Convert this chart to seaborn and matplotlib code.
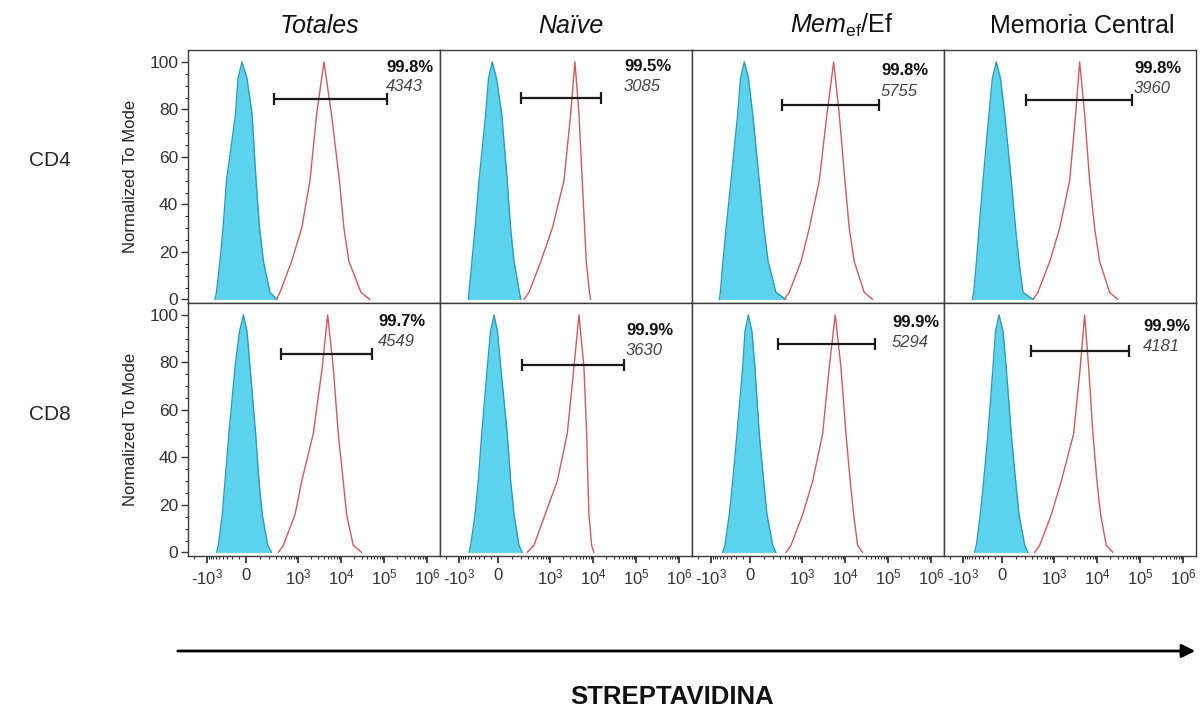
import numpy as np
import pandas as pd
import matplotlib
matplotlib.use("Agg")
import matplotlib.pyplot as plt
from matplotlib.ticker import FixedLocator, NullLocator
import seaborn as sns

# -------------------------
# DATA
# -------------------------
col_titles = ["Totales", "Naïve", r"$\mathit{Mem}_{\mathrm{ef}}$/Ef", "Memoria Central"]
col_styles = ["italic", "italic", "normal", "normal"]
row_labels = ["CD4", "CD8"]

# % of mode at each point of the traced outlines (left flank, peak, right flank)
ctrl_levels = [0, 3, 16, 30, 50, 78, 93, 100, 93, 78, 50, 30, 16, 3, 0]
strep_levels = [0, 3, 16, 30, 50, 78, 100, 78, 50, 30, 16, 3, 0]

# fluorescence at those levels: control (cyan, filled) and streptavidin (red)
cd4_totales_ctrl = [-638, -585, -478, -393, -313, -149, -111, -54, 7, 41, 70, 98, 134, 206, 314]
cd4_totales_strep = [308, 372, 706, 1219, 1899, 2718, 4017, 6002, 9203, 11706, 15300, 29059, 47000]
cd4_naive_ctrl = [-590, -568, -478, -393, -302, -178, -134, -78, -20, 25, 64, 90, 120, 176, 191]
cd4_naive_strep = [233, 314, 608, 1131, 2115, 3025, 3807, 4718, 5630, 6392, 6969, 8280, 8816]
cd4_memef_ctrl = [-625, -590, -505, -418, -302, -178, -134, -78, -20, 18, 64, 101, 140, 233, 415]
cd4_memef_strep = [378, 500, 948, 1477, 2523, 3807, 5450, 7347, 9970, 12549, 16405, 27962, 43772]
cd4_memc_ctrl = [-590, -545, -461, -393, -302, -190, -136, -78, -20, 18, 64, 98, 129, 170, 314]
cd4_memc_strep = [314, 415, 795, 1357, 2315, 3191, 3953, 5165, 6747, 8816, 11518, 19660, 30640]

cd8_totales_ctrl = [-575, -527, -412, -347, -263, -157, -89, -36, 7, 27, 67, 93, 122, 179, 229]
cd8_totales_strep = [337, 448, 852, 1219, 2268, 3670, 4898, 6603, 8630, 11278, 13516, 19251, 30163]
cd8_naive_ctrl = [-568, -514, -393, -318, -248, -152, -104, -54, -7, 18, 64, 91, 120, 170, 210]
cd8_naive_strep = [283, 415, 766, 1477, 2523, 3610, 4718, 6163, 7118, 7632, 8048, 9300, 10521]
cd8_memef_ctrl = [-514, -449, -340, -268, -190, -101, -68, -23, 13, 33, 64, 99, 129, 191, 233]
cd8_memef_strep = [415, 549, 1038, 1773, 3025, 4309, 5933, 8048, 10521, 13237, 15872, 19660, 25705]
cd8_memc_ctrl = [-514, -466, -363, -289, -207, -126, -89, -40, 7, 28, 64, 99, 129, 191, 233]
cd8_memc_strep = [345, 457, 866, 1477, 2870, 4080, 5165, 6392, 8048, 9970, 12152, 16405, 23467]

ctrl = [[cd4_totales_ctrl, cd4_naive_ctrl, cd4_memef_ctrl, cd4_memc_ctrl],
        [cd8_totales_ctrl, cd8_naive_ctrl, cd8_memef_ctrl, cd8_memc_ctrl]]
strep = [[cd4_totales_strep, cd4_naive_strep, cd4_memef_strep, cd4_memc_strep],
         [cd8_totales_strep, cd8_naive_strep, cd8_memef_strep, cd8_memc_strep]]

# gate bars
gate_lo = [[263, 193, 332, 210], [393, 210, 268, 274]]
gate_hi = [[114800, 15300, 60500, 65800], [51500, 52300, 50400, 55100]]
gate_y = [[84.5, 84.6, 82.0, 83.9], [83.5, 79.0, 87.8, 84.7]]

# gate stats
pct = [["99.8%", "99.5%", "99.8%", "99.8%"], ["99.7%", "99.9%", "99.9%", "99.9%"]]
mfi = [["4343", "3085", "5755", "3960"], ["4549", "3630", "5294", "4181"]]

x_major = [-1000, 0, 1e3, 1e4, 1e5, 1e6]
x_major_labels = [r"-$10^{3}$", r"$0$", r"$10^{3}$", r"$10^{4}$", r"$10^{5}$", r"$10^{6}$"]

# label placement (axes fraction): x, y of percentage, y of MFI
stat_pos = [[(0.786, 0.929, 0.854), (0.730, 0.936, 0.857), (0.750, 0.918, 0.837), (0.754, 0.926, 0.847)],
            [(0.754, 0.926, 0.847), (0.738, 0.893, 0.814), (0.794, 0.922, 0.843), (0.790, 0.906, 0.827)]]

# -------------------------
# STYLE
# -------------------------
sns.set_theme(style="white")
plt.rcParams["font.family"] = ["Liberation Sans", "DejaVu Sans"]
plt.rcParams["mathtext.fontset"] = "custom"
plt.rcParams["mathtext.rm"] = "Liberation Sans"
plt.rcParams["mathtext.it"] = "Liberation Sans:italic"
plt.rcParams["mathtext.bf"] = "Liberation Sans:bold"

CYAN = "#5cd2ef"
CYAN_EDGE = "#2c9db4"
RED = "#d05a5c"
FRAME = "#3c3c3c"


# biexponential-like display (asinh, negative side compressed)
def fwd(x):
    x = np.asarray(x, dtype=float)
    return np.where(x >= 0, np.arcsinh(x / 124.0), np.arcsinh(x / 252.0))


def inv(u):
    u = np.clip(np.asarray(u, dtype=float), -30, 30)
    return np.where(u >= 0, 124.0 * np.sinh(u), 252.0 * np.sinh(u))


x_minor = ([-2000, -900, -800, -700, -600, -500, -400, -300, -200, -100]
           + [100, 200, 300, 400, 500, 600, 700, 800, 900]
           + [m * 10 ** k for k in (3, 4, 5) for m in range(2, 10)])

fig, axes = plt.subplots(2, 4, figsize=(12.02, 7.09), dpi=100, sharey=True)
fig.subplots_adjust(left=188 / 1202, right=1196 / 1202, top=1 - 50 / 709,
                    bottom=1 - 556 / 709, wspace=0, hspace=0)

for r in range(2):
    for c in range(4):
        ax = axes[r, c]
        ax.set_xscale("function", functions=(fwd, inv))

        df = pd.concat([
            pd.DataFrame({"x": ctrl[r][c], "y": ctrl_levels, "tube": "ctrl"}),
            pd.DataFrame({"x": strep[r][c], "y": strep_levels, "tube": "strep"}),
        ])
        ax.fill_between(ctrl[r][c], ctrl_levels, 0, color=CYAN, lw=0, zorder=1)
        sns.lineplot(data=df, x="x", y="y", hue="tube", palette={"ctrl": CYAN_EDGE, "strep": RED},
                     sort=False, estimator=None, legend=False, lw=1.0, ax=ax, zorder=2)

        # gate
        ax.plot([gate_lo[r][c], gate_hi[r][c]], [gate_y[r][c]] * 2, color="#1a1a1a", lw=1.6,
                marker="|", ms=8, mew=1.6, zorder=3)
        px, py1, py2 = stat_pos[r][c]
        ax.text(px, py1, pct[r][c], transform=ax.transAxes, ha="left", va="center",
                fontsize=12, fontweight="bold", color="#111111")
        ax.text(px, py2, mfi[r][c], transform=ax.transAxes, ha="left", va="center",
                fontsize=12, style="italic", color="#444444")

        ax.set_xlim(-2800, 2.0e6)
        ax.set_ylim(-1.5, 105)
        ax.set_xlabel("")
        ax.set_ylabel("")
        for s in ax.spines.values():
            s.set_color(FRAME)
            s.set_linewidth(1.0)

        # x axis only on the bottom row
        if r == 1:
            ax.xaxis.set_major_locator(FixedLocator(x_major))
            ax.set_xticklabels(x_major_labels)
            ax.xaxis.set_minor_locator(FixedLocator(x_minor))
            ax.tick_params(axis="x", which="major", bottom=True, length=5, width=1.2,
                           labelsize=12, pad=3, color="#222222", labelcolor="#333333")
            ax.tick_params(axis="x", which="minor", bottom=True, length=2.5, width=0.8,
                           color="#333333")
        else:
            ax.xaxis.set_major_locator(NullLocator())
            ax.xaxis.set_minor_locator(NullLocator())

        # y axis only on the first column
        if c == 0:
            ax.yaxis.set_major_locator(FixedLocator([0, 20, 40, 60, 80, 100]))
            ax.yaxis.set_minor_locator(FixedLocator([v for v in range(5, 100, 5) if v % 20]))
            ax.tick_params(axis="y", which="major", left=True, length=5, width=1.0,
                           labelsize=12.5, pad=2, color="#333333", labelcolor="#333333")
            ax.tick_params(axis="y", which="minor", left=True, length=2.5, width=0.8,
                           color="#333333")
            ax.set_ylabel("Normalized To Mode", fontsize=12, labelpad=8, color="#222222")
        else:
            ax.tick_params(axis="y", which="both", left=False, labelleft=False)

# column titles and row labels
title_x = [320, 571, 842, 1082]
for c in range(4):
    fig.text(title_x[c] / 1202, 1 - 33 / 709, col_titles[c], ha="center", va="baseline",
             fontsize=18, style=col_styles[c], color="#111111")
fig.text(50 / 1202, 1 - 160 / 709, row_labels[0], ha="center", va="center", fontsize=15)
fig.text(50 / 1202, 1 - 415 / 709, row_labels[1], ha="center", va="center", fontsize=15)

# axis arrow and label
fig.add_artist(matplotlib.patches.FancyArrowPatch(
    (175 / 1202, 1 - 651 / 709), (1198 / 1202, 1 - 651 / 709), transform=fig.transFigure,
    arrowstyle="-|>", mutation_scale=20, lw=2, color="black"))
fig.text(672 / 1202, 1 - 697 / 709, "STREPTAVIDINA", ha="center", va="center",
         fontsize=18.5, fontweight="bold", color="#111111")

fig.savefig("out.png", dpi=100)
